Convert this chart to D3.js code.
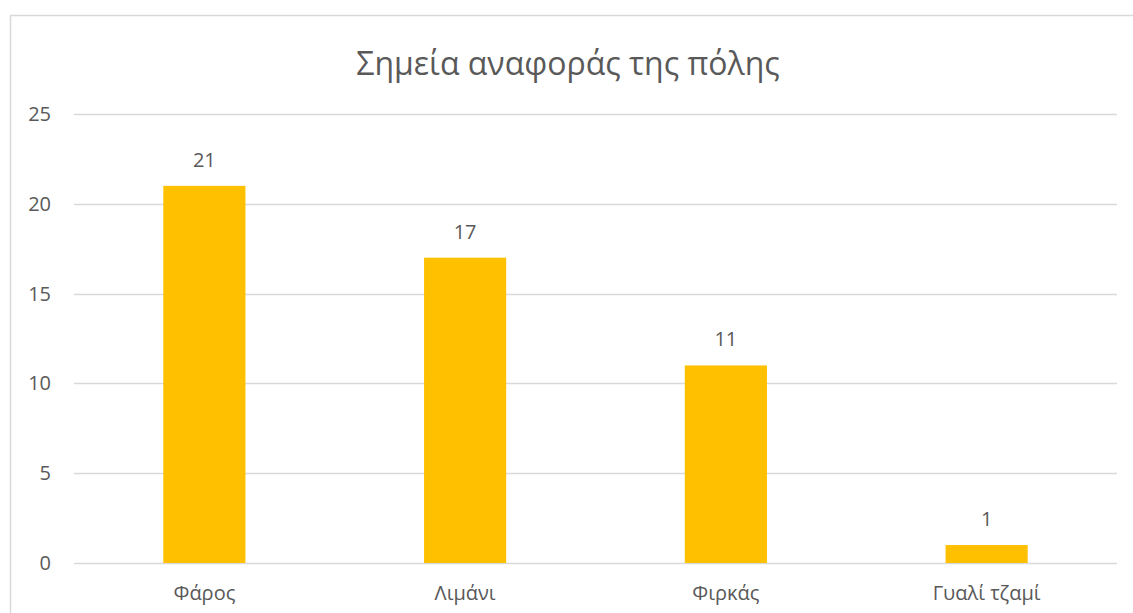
<!DOCTYPE html>
<meta charset="utf-8">
<script src="https://d3js.org/d3.v7.min.js"></script>
<style>
  body { margin: 0; background: #fff; }
  text { font-family: "Open Sans", sans-serif; fill: #595959; }
</style>
<div id="chart"></div>
<script>
  // data
  var categories = ["Φάρος", "Λιμάνι", "Φιρκάς", "Γυαλί τζαμί"];
  var values = [21, 17, 11, 1];
  var yTicks = [0, 5, 10, 15, 20, 25];
  var title = "Σημεία αναφοράς της πόλης";

  var W = 1133, H = 613;
  var margin = {top: 114, right: 16, bottom: 50, left: 74};
  var width = 1117 - margin.left,
      height = 563 - margin.top;

  var svg = d3.select("#chart").append("svg")
    .attr("width", W)
    .attr("height", H);

  // outer chart border
  svg.append("rect")
    .attr("x", 10.5).attr("y", 15.5)
    .attr("width", W + 20).attr("height", H + 20)
    .attr("fill", "none")
    .attr("stroke", "#d9d9d9")
    .attr("stroke-width", 1.5);

  svg.append("text")
    .attr("x", 568).attr("y", 75)
    .attr("text-anchor", "middle")
    .style("font-size", "32px")
    .text(title);

  var g = svg.append("g")
    .attr("transform", "translate(" + margin.left + "," + margin.top + ")");

  var x = d3.scaleBand()
    .domain(categories)
    .range([0, width])
    .padding(0);

  var y = d3.scaleLinear()
    .domain([0, 25])
    .range([height, 0]);

  // gridlines
  g.append("g")
    .selectAll("line")
    .data(yTicks)
    .enter().append("line")
    .attr("x1", 0).attr("x2", width)
    .attr("y1", function(d) { return Math.round(y(d)) + 0.5; })
    .attr("y2", function(d) { return Math.round(y(d)) + 0.5; })
    .attr("stroke", "#d9d9d9")
    .attr("stroke-width", 1.5);

  // y axis labels
  var yAxis = g.append("g")
    .call(d3.axisLeft(y).tickValues(yTicks).tickSize(0).tickPadding(23));
  yAxis.select(".domain").remove();
  yAxis.selectAll("text")
    .style("font-size", "20px")
    .attr("fill", "#595959");

  // x axis labels
  var xAxis = g.append("g")
    .attr("transform", "translate(0," + height + ")")
    .call(d3.axisBottom(x).tickSize(0).tickPadding(23));
  xAxis.select(".domain").remove();
  xAxis.selectAll("text")
    .style("font-size", "20px")
    .attr("fill", "#595959");

  var barW = x.bandwidth() * 0.315;

  // bars
  g.append("g")
    .selectAll("rect")
    .data(values)
    .enter().append("rect")
    .attr("x", function(d, i) { return x(categories[i]) + x.bandwidth() / 2 - barW / 2; })
    .attr("y", function(d) { return y(d); })
    .attr("width", barW)
    .attr("height", function(d) { return height - y(d); })
    .attr("fill", "#ffc000");

  // value labels
  g.append("g")
    .selectAll("text")
    .data(values)
    .enter().append("text")
    .attr("x", function(d, i) { return x(categories[i]) + x.bandwidth() / 2; })
    .attr("y", function(d) { return y(d) - 19; })
    .attr("text-anchor", "middle")
    .style("font-size", "20px")
    .text(function(d) { return d; });
</script>
